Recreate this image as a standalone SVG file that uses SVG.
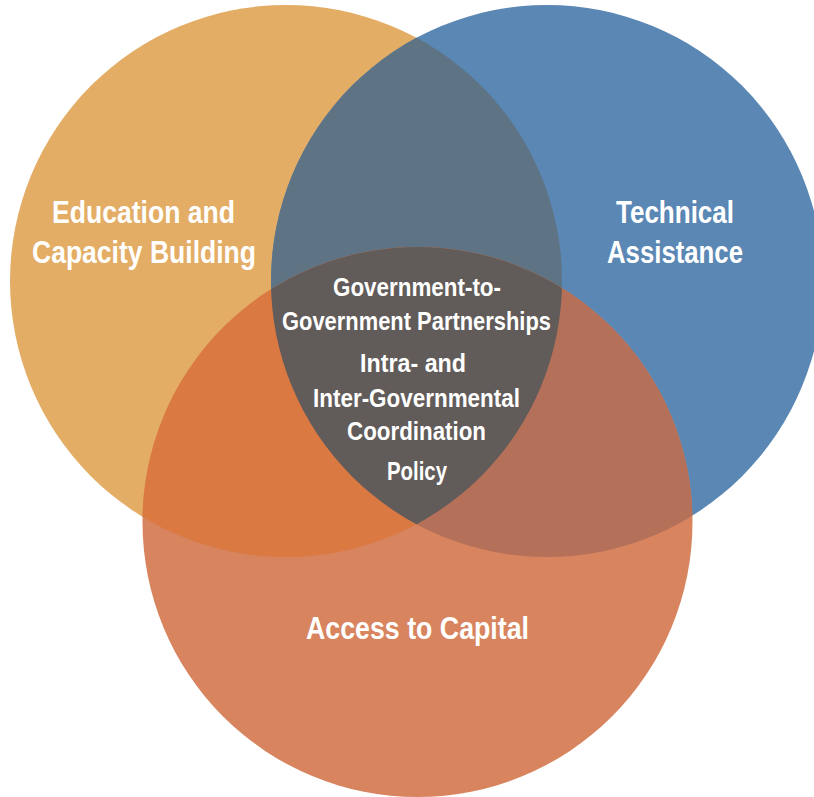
<svg xmlns="http://www.w3.org/2000/svg" width="814" height="797" viewBox="0 0 814 797">
<style>
.lbl{font-family:"Liberation Sans",Arial,sans-serif;font-weight:bold;fill:#ffffff;text-anchor:middle}
.big{font-size:32px}
.mid{font-size:25px}
</style>
<defs>
<clipPath id="cL"><circle cx="286" cy="281" r="276"/></clipPath>
<clipPath id="cR"><circle cx="547" cy="281" r="276"/></clipPath>
<clipPath id="cB"><circle cx="417.5" cy="522" r="275"/></clipPath>
</defs>
<rect width="814" height="797" fill="#ffffff"/>
<g id="education">
<circle cx="286" cy="281" r="276" fill="#E3AD66"/>
</g>
<g id="technical">
<circle cx="547" cy="281" r="276" fill="#5A87B4"/>
</g>
<g id="capital">
<circle cx="417.5" cy="522" r="275" fill="#D7845F"/>
</g>
<g id="overlaps">
<g clip-path="url(#cL)"><circle cx="547" cy="281" r="276" fill="#5E7484"/></g>
<g clip-path="url(#cL)"><circle cx="417.5" cy="522" r="275" fill="#DA7942"/></g>
<g clip-path="url(#cR)"><circle cx="417.5" cy="522" r="275" fill="#B5705A"/></g>
<g clip-path="url(#cL)"><g clip-path="url(#cR)"><circle cx="417.5" cy="522" r="275" fill="#615B59"/></g></g>
</g>
<g id="connectors"></g>
<g id="labels">
<text class="lbl big" x="143.5" y="223" textLength="183" lengthAdjust="spacingAndGlyphs">Education and</text>
<text class="lbl big" x="144" y="263" textLength="224" lengthAdjust="spacingAndGlyphs">Capacity Building</text>
<text class="lbl big" x="675" y="223" textLength="118" lengthAdjust="spacingAndGlyphs">Technical</text>
<text class="lbl big" x="675" y="263" textLength="136" lengthAdjust="spacingAndGlyphs">Assistance</text>
<text class="lbl mid" x="417" y="296" textLength="168" lengthAdjust="spacingAndGlyphs">Government-to-</text>
<text class="lbl mid" x="416.5" y="330" textLength="269" lengthAdjust="spacingAndGlyphs">Government Partnerships</text>
<text class="lbl mid" x="413" y="372" textLength="106" lengthAdjust="spacingAndGlyphs">Intra- and</text>
<text class="lbl mid" x="416.5" y="407" textLength="207" lengthAdjust="spacingAndGlyphs">Inter-Governmental</text>
<text class="lbl mid" x="416.5" y="440" textLength="139" lengthAdjust="spacingAndGlyphs">Coordination</text>
<text class="lbl mid" x="417" y="480" textLength="60" lengthAdjust="spacingAndGlyphs">Policy</text>
<text class="lbl big" x="417.5" y="639" textLength="223" lengthAdjust="spacingAndGlyphs">Access to Capital</text>
</g>
</svg>
